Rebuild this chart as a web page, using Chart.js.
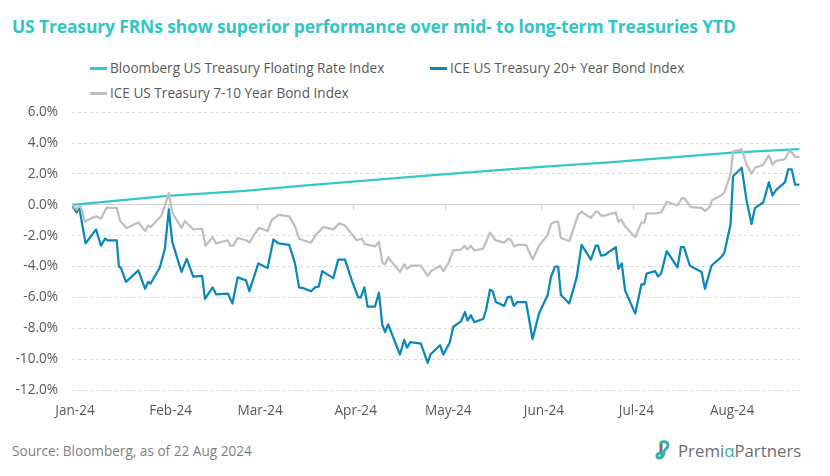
<!DOCTYPE html>
<html>
<head>
<meta charset="utf-8">
<script src="https://cdn.jsdelivr.net/npm/chart.js@4.4.1/dist/chart.umd.min.js"></script>
<style>
  body { margin: 0; background: #fff; }
  #wrap { position: relative; width: 830px; height: 476px; background: #fff; font-family: "Open Sans", sans-serif; overflow: hidden; }
  #title { position: absolute; left: 12px; top: 14px; font-size: 17.5px; font-weight: 700; color: #31c6c6; white-space: nowrap; letter-spacing: -0.15px; }
  .leg { position: absolute; font-size: 13.6px; color: #595959; white-space: nowrap; line-height: 18px; }
  .leg span.sw { display: inline-block; width: 17px; height: 2.5px; vertical-align: middle; margin-right: 3px; position: relative; top: -1px; }
  #chartBox { position: absolute; left: 0; top: 90px; width: 830px; height: 335px; }
  #source { position: absolute; left: 12px; top: 441px; font-size: 13.6px; color: #7f7f7f; white-space: nowrap; }
  #logo { position: absolute; left: 654px; top: 440px; height: 22px; white-space: nowrap; }
  #logo .txt { position: absolute; left: 24px; top: -1px; font-size: 16.8px; color: #6d6e71; }
  #logo .txt b { font-weight: 400; color: #3aafa9; }
</style>
</head>
<body>
<div id="wrap">
  <div id="title">US Treasury FRNs show superior performance over mid- to long-term Treasuries YTD</div>
  <div id="legend"></div>
  <div id="chartBox"><canvas id="perfChart" width="830" height="335"></canvas></div>
  <div id="source">Source: Bloomberg, as of 22 Aug 2024</div>
  <div id="logo">
    <svg width="20" height="22" viewBox="0 0 20 22">
      <path d="M7 3 L7 14" stroke="#6d6e71" stroke-width="3" fill="none" stroke-linecap="round"/>
      <path d="M7 3 C7 1 14 1 14 5 C14 9 10 9 10 12 C10 18 3 20 3 16 C3 13 7 13 7 14" stroke="#3aafa9" stroke-width="3" fill="none" stroke-linecap="round"/>
    </svg>
    <div class="txt">Premi<b>α</b>Partners</div>
  </div>
</div>
<script>
// x axis: days since 1 Jan 2024
const monthStarts = [0, 31, 60, 91, 121, 152, 182, 213];
const monthLabels = ['Jan-24', 'Feb-24', 'Mar-24', 'Apr-24', 'May-24', 'Jun-24', 'Jul-24', 'Aug-24'];

// y axis (%)
const yMin = -12;
const yMax = 6;
const yStep = 2;

const seriesNames = [
    'Bloomberg US Treasury Floating Rate Index',
    'ICE US Treasury 20+ Year Bond Index',
    'ICE US Treasury 7-10 Year Bond Index'
];
const seriesColors = ['#33c8c8', '#0a88b8', '#bfbfbf'];

// Bloomberg US Treasury Floating Rate Index (cumulative return, %)
const frnDays = [0, 31, 56, 74, 91, 116, 152, 174, 214, 235.5];
const frnValues = [0, 0.57, 0.9, 1.23, 1.5, 1.9, 2.45, 2.75, 3.38, 3.6];

// ICE US Treasury 20+ Year Bond Index
const longDays = [0, 1.5, 1.9, 2.4, 2.9, 4.4, 7.8, 9.4, 10.7, 11.5, 14.5, 15.2, 15.9, 17.5, 21.5, 23.7, 24.7, 25.5,
    28.5, 30.1, 31.4, 32.5, 35.5, 37.2, 39.3, 42.2, 43.1, 45.6, 46.7, 50.5, 52, 53.7, 56.4, 57.5, 60.4, 63.4,
    65.3, 66.9, 70.4, 72.3, 73.6, 74.9, 77.5, 78.8, 80, 81.1, 84.7, 86.3, 88.5, 90.7, 92.8, 93.6, 94.8, 95.8,
    98.2, 99.5, 100.6, 101.5, 102.5, 106.3, 107.7, 108.6, 109.7, 113.1, 115.3, 116.2, 119.3, 120.4, 122.5,
    123.6, 126.1, 127.4, 128.2, 129.3, 130.4, 133.3, 134.2, 135.5, 136.4, 137.4, 140.1, 141.2, 142.3, 143.2,
    144.4, 147.2, 149.3, 151.4, 154.2, 155.3, 156.6, 157.6, 158.5, 161.2, 163.6, 165.2, 168.2, 169.8, 170.5,
    171.5, 172.8, 174.4, 176.3, 177.1, 178.2, 179.3, 182.6, 184.6, 185.5, 186.3, 189, 190, 191, 192.8, 196.3,
    197.4, 198.4, 200.3, 204.1, 205.2, 207.3, 210.4, 211.5, 213.5, 214.3, 217.1, 218.7, 220.3, 221.4, 224.1,
    225.9, 227.1, 228.2, 231.1, 232.2, 233.3, 234.4, 235.5];
const longValues = [0, -0.5, -0.3, -0.2, -0.8, -2.5, -1.6, -2.65, -2.2, -2.3, -2.3, -4.0, -4.1, -5.0, -4.25, -5.45, -5.0, -5.1,
    -4.05, -2.85, -0.3, -2.4, -4.35, -3.5, -4.65, -4.6, -6.1, -5.35, -5.8, -5.75, -6.4, -4.7, -4.9, -5.6, -3.8, -4.1,
    -2.25, -2.5, -2.6, -3.8, -5.35, -5.4, -5.6, -5.35, -5.3, -4.3, -4.75, -3.55, -3.55, -4.9, -6.0, -6.0, -5.35, -6.6,
    -6.6, -5.7, -7.8, -8.25, -7.75, -9.7, -8.75, -9.25, -8.9, -9.0, -10.25, -9.7, -9.1, -9.7, -8.9,
    -7.9, -7.55, -6.95, -7.5, -7.15, -7.6, -7.4, -6.85, -5.5, -5.6, -6.3, -6.55, -6.0, -5.95, -6.55,
    -6.3, -6.3, -8.7, -7.05, -5.85, -4.65, -4.0, -4.0, -5.85, -6.4, -4.7, -2.6, -3.55, -2.65, -2.65,
    -3.3, -3.25, -3.0, -2.75, -4.15, -3.8, -5.55, -7.05, -5.15, -5.15, -4.45, -4.3, -4.65, -4.45, -3.0, -4.05,
    -2.75, -2.75, -3.95, -4.35, -5.45, -3.95, -3.4, -3.1, -1.25, 1.85, 2.4, 0.25, -1.25, -0.2, 0.15,
    1.45, 0.6, 0.95, 1.45, 2.3, 2.3, 1.3, 1.3];

// ICE US Treasury 7-10 Year Bond Index
const midDays = [0, 1.5, 2.2, 2.9, 4.2, 6, 8, 9.4, 11.2, 14.5, 15.6, 17.7, 21.5, 23.7, 24.7, 25.5, 29, 30.1, 31.4,
    32.5, 35.5, 36.6, 39.3, 42.2, 43.3, 45.6, 46.7, 50.5, 51.3, 52.3, 53.7, 56.4, 57.6, 58.7, 60.6, 63.4, 64.7,
    66.9, 70.4, 72.3, 73.6, 74.9, 77.5, 79, 81.5, 84.7, 86.6, 88.5, 92.3, 93.9, 95, 98.2, 99.5, 100.6, 101.5,
    102.5, 106.3, 107.7, 108.6, 109.8, 113.1, 115.3, 116.4, 119.3, 120.4, 122, 123.6, 126.1, 127.2, 128.2,
    129.3, 130.4, 133.3, 135.5, 137.3, 140.1, 141.4, 142.3, 143.4, 144.4, 147.2, 149.3, 151.4, 154.2, 155.3,
    156.6, 157.6, 158.5, 161.2, 164.1, 165.2, 168.2, 169.8, 170.5, 171.5, 172.8, 174.4, 176.3, 177.1, 178,
    179.3, 182.6, 184.6, 185.6, 186.3, 189.5, 191, 192.8, 196.3, 197.8, 198.6, 200.6, 204.1, 205.2, 206.7,
    207.5, 210.4, 211.5, 213.5, 214.3, 217.1, 218.7, 220.3, 221.4, 224.1, 225.9, 227.1, 228.2, 231.1, 232.7,
    234.4, 235.5];
const midValues = [0, -0.3, -0.1, -0.15, -1.1, -0.9, -0.75, -0.9, -0.2, -0.2, -1.05, -1.5, -1.15, -1.7, -1.35, -1.45, -0.7, -0.05, 0.75,
    -0.5, -1.5, -1.05, -1.6, -1.55, -2.65, -2.1, -2.5, -2.3, -2.65, -2.65, -2.15, -2.3, -2.45, -2.05, -1.5, -1.7, -1.0,
    -0.65, -0.75, -1.4, -2.2, -2.3, -2.45, -1.95, -1.45, -1.6, -1.2, -1.35, -2.3, -2.2, -2.55, -2.7, -2.4, -3.75, -3.85,
    -3.4, -4.35, -3.85, -4.15, -3.95, -3.95, -4.6, -4.3, -3.95, -4.3, -3.8, -2.95, -2.9, -2.65, -2.9,
    -2.65, -2.95, -2.85, -1.8, -2.3, -2.45, -2.2, -2.3, -2.7, -2.6, -2.6, -3.55, -2.65, -1.95, -1.25,
    -1.1, -1.1, -2.15, -2.35, -0.65, -0.45, -0.85, -0.45, -0.45, -0.7, -0.7, -0.6, -0.5, -1.1, -0.95,
    -1.4, -2.1, -1.15, -1.15, -0.55, -0.55, -0.5, 0.2, -0.05, 0.45, 0.4, -0.15, -0.2, -0.4, -0.15,
    0.3, 0.6, 0.8, 2.0, 3.45, 3.6, 2.6, 2.0, 2.4, 2.6, 3.2, 2.6, 2.85, 2.95, 3.55,
    3.1, 3.1];

function toPoints(days, values) {
    return days.map((d, i) => ({ x: d, y: values[i] }));
}

// Build legend (two rows, left aligned like the original)
function buildLegend() {
    const legend = document.getElementById('legend');
    const spots = [
        { left: 90, top: 59 },
        { left: 430, top: 59 },
        { left: 90, top: 84 }
    ];
    seriesNames.forEach((name, i) => {
        const el = document.createElement('div');
        el.className = 'leg';
        el.style.left = spots[i].left + 'px';
        el.style.top = spots[i].top + 'px';
        el.innerHTML = '<span class="sw" style="background:' + seriesColors[i] + '"></span>' + name;
        legend.appendChild(el);
    });
}

// small tick marks hanging under the zero line
const zeroTicks = {
    id: 'zeroTicks',
    beforeDatasetsDraw(chart) {
        const xs = chart.scales.x;
        const y0 = chart.scales.y.getPixelForValue(0);
        const ctx = chart.ctx;
        ctx.save();
        ctx.strokeStyle = '#d0d0d0';
        ctx.lineWidth = 1;
        monthStarts.forEach(v => {
            const px = Math.round(xs.getPixelForValue(v)) + 0.5;
            ctx.beginPath();
            ctx.moveTo(px, y0);
            ctx.lineTo(px, y0 + 5);
            ctx.stroke();
        });
        ctx.restore();
    }
};

Chart.defaults.font.family = '"Open Sans", sans-serif';
Chart.defaults.font.size = 13.6;
Chart.defaults.color = '#595959';

document.addEventListener('DOMContentLoaded', () => {
    buildLegend();
    const ctx = document.getElementById('perfChart').getContext('2d');
    new Chart(ctx, {
        type: 'line',
        data: {
            datasets: [
                {
                    label: seriesNames[0],
                    data: toPoints(frnDays, frnValues),
                    borderColor: seriesColors[0],
                    borderWidth: 2.25,
                    order: 2
                },
                {
                    label: seriesNames[1],
                    data: toPoints(longDays, longValues),
                    borderColor: seriesColors[1],
                    borderWidth: 2.25,
                    order: 1
                },
                {
                    label: seriesNames[2],
                    data: toPoints(midDays, midValues),
                    borderColor: seriesColors[2],
                    borderWidth: 2.25,
                    order: 0
                }
            ]
        },
        plugins: [zeroTicks],
        options: {
            responsive: false,
            animation: false,
            elements: {
                point: { radius: 0 },
                line: { tension: 0, borderJoinStyle: 'round', borderCapStyle: 'round' }
            },
            layout: { padding: { left: 12, right: 30, top: 1, bottom: 0 } },
            plugins: {
                legend: { display: false },
                tooltip: { enabled: false }
            },
            scales: {
                x: {
                    type: 'linear',
                    min: 0,
                    max: 236,
                    grid: { display: false },
                    border: { display: false },
                    afterBuildTicks: (scale) => {
                        scale.ticks = monthStarts.map(v => ({ value: v }));
                    },
                    afterFit: (scale) => { scale.height = 35; },
                    ticks: {
                        autoSkip: false,
                        maxRotation: 0,
                        padding: 5,
                        labelOffset: 3,
                        callback: (v) => monthLabels[monthStarts.indexOf(v)]
                    }
                },
                y: {
                    min: yMin,
                    max: yMax,
                    afterFit: (scale) => { scale.width = 60; },
                    grid: {
                        drawTicks: false,
                        color: (c) => (c.tick && c.tick.value === 0 ? '#d0d0d0' : '#d9d9d9'),
                        lineWidth: 1
                    },
                    border: {
                        display: false,
                        dash: (c) => (c.tick && c.tick.value === 0 ? [] : [3, 3])
                    },
                    ticks: {
                        stepSize: yStep,
                        padding: 14,
                        callback: (v) => v.toFixed(1) + '%'
                    }
                }
            }
        }
    });
});
</script>
</body>
</html>
